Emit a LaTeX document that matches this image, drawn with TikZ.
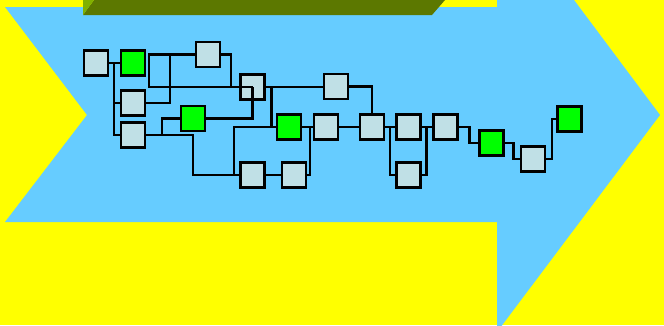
\documentclass[tikz,border=0pt]{standalone}
\usepackage{tikz}

\definecolor{bgyellow}{RGB}{255,255,0}
\definecolor{arrowblue}{RGB}{102,204,255}
\definecolor{boxgrey}{RGB}{192,224,230}
\definecolor{boxgreen}{RGB}{0,255,0}
\definecolor{bardark}{RGB}{92,120,0}
\definecolor{barlight}{RGB}{128,176,0}

\begin{document}
\begin{tikzpicture}[x=0.3mm,y=-0.3mm,
  bx/.style={draw,line width=0.8mm,fill=boxgrey,inner sep=0pt,
             minimum width=7.2mm,minimum height=7.5mm},
  gbx/.style={bx,fill=boxgreen},
  ln/.style={line width=0.75mm}]

\useasboundingbox (0,0) rectangle (664,325);
\clip (0,0) rectangle (664,325);

% background and arrow
\fill[bgyellow] (0,0) rectangle (664,325);
\fill[arrowblue] (5,7) -- (497,7) -- (497,-103) -- (660,115) -- (497,332)
  -- (497,222) -- (5,222) -- (87,115) -- cycle;

% bar on top
\fill[bardark] (94,0) -- (445,0) -- (432,15) -- (83,15) -- cycle;
\fill[barlight] (83,0) -- (94,0) -- (83,15) -- cycle;

% boxes
\node[bx]  (A) at (96,63)    {};
\node[gbx] (B) at (133,63)   {};
\node[bx]  (C) at (208,54.5) {};
\node[bx]  (D) at (133,103)  {};
\node[bx]  (E) at (133,135)  {};
\node[gbx] (F) at (193,118.5) {};
\node[bx]  (G) at (252.5,87) {};
\node[bx]  (H) at (336,86.5) {};
\node[gbx] (I) at (289,127)  {};
\node[bx]  (J) at (326,127)  {};
\node[bx]  (K) at (372,127)  {};
\node[bx]  (L) at (408.7,127) {};
\node[bx]  (P) at (445.3,127) {};
\node[bx]  (M) at (252.5,175) {};
\node[bx]  (N) at (294,175)  {};
\node[bx]  (O) at (408.7,175) {};
\node[gbx] (Q) at (491.3,143) {};
\node[bx]  (R) at (533,159)  {};
\node[gbx] (S) at (569.5,119) {};

% junctions
\coordinate (ta) at (114,63);
\coordinate (bc) at (149,54.5);
\coordinate (cg) at (231,87);
\coordinate (dc) at (170,54.5);
\coordinate (ef) at (162,135);
\coordinate (em) at (193,135);
\coordinate (mi) at (234,175);
\coordinate (gi) at (271.7,87);
\coordinate (nj) at (310,127);
\coordinate (ko) at (390,127);
\coordinate (lo) at (426.7,127);

% connectors
\draw[ln] (A) -- (B);
\draw[ln] (ta) |- (D.west);
\draw[ln] (ta) |- (E.west);
\draw[ln] (C.west) -- (bc) |- (G.center);
\draw[ln] (C.east) -| (cg);
\draw[ln] (D.east) -| (dc);
\draw[ln] (E.east) -- (em) |- (M.west);
\draw[ln] (ef) |- (F.west);
\draw[ln] (F.east) -| (G.center);
\draw[ln] (mi) |- (I.west);
\draw[ln] (G.east) -- (G.east -| H.west);
\draw[ln] (gi) |- (I.west);
\draw[ln] (I) -- (J);
\draw[ln] (M) -- (N);
\draw[ln] (N.east) -| (nj);
\draw[ln] (J) -- (K);
\draw[ln] (H.east) -| (K.north);
\draw[ln] (K) -- (L);
\draw[ln] (ko) |- (O.west);
\draw[ln] (L) -- (P);
\draw[ln] (O.east) -| (lo);
\draw[ln] (P.east) -- ++(11,0) |- (Q.west);
\draw[ln] (Q.east) -- ++(9,0) |- (R.west);
\draw[ln] (R.east) -- ++(5.7,0) |- (S.west);
\end{tikzpicture}
\end{document}
